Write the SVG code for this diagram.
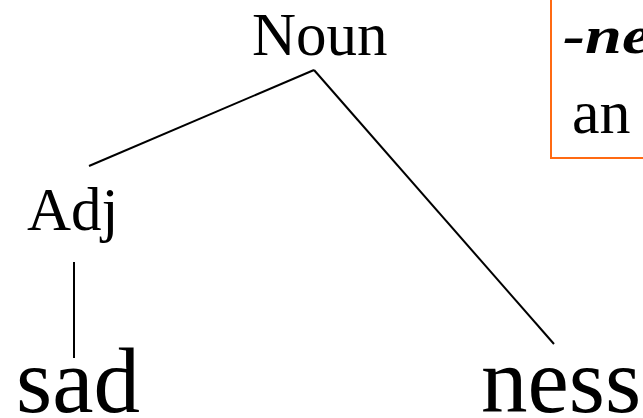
<svg xmlns="http://www.w3.org/2000/svg" width="643" height="418" viewBox="0 0 643 418">
  <style>
    .lbl { font-family: "Liberation Serif", "Times New Roman", serif; fill: #000; }
    .cat { font-size: 61px; }
    .word { font-size: 93px; }
    .edge { stroke: #000; stroke-width: 2; fill: none; }
    .note { fill: #fff; stroke: #ff6a13; stroke-width: 2; }
  </style>
  <rect width="643" height="418" fill="#fff"/>

  <!-- tree branches -->
  <g id="connectors">
    <line class="edge" x1="314" y1="70" x2="89" y2="166"/>
    <line class="edge" x1="314" y1="70" x2="554" y2="344"/>
    <line class="edge" x1="74" y1="262" x2="74" y2="358"/>
  </g>

  <g id="noun">
    <text class="lbl cat" x="252" y="55">Noun</text>
  </g>
  <g id="adj">
    <text class="lbl cat" x="27" y="230">Adj</text>
  </g>
  <g id="sad">
    <text class="lbl word" x="16" y="412">sad</text>
  </g>
  <g id="ness">
    <text class="lbl word" x="481" y="412">ness</text>
  </g>

  <!-- annotation box, cut off at the top and right -->
  <g id="note">
    <rect class="note" x="551" y="-10" width="120" height="168"/>
    <text class="lbl" transform="translate(563,53) scale(1.25,1)" font-size="53" font-weight="bold" font-style="italic">-ne</text>
    <text class="lbl" x="572" y="133" font-size="62">an</text>
  </g>
</svg>
